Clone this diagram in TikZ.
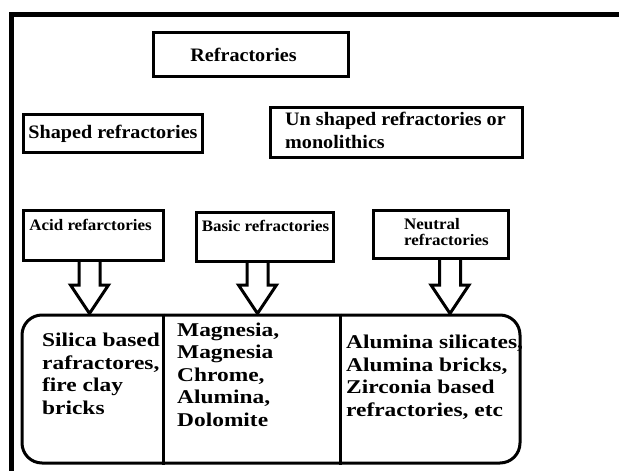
\documentclass[tikz,border=0pt]{standalone}
\usepackage{fontspec}
\setmainfont{Liberation Serif}[FakeStretch=1.2]
\newfontfamily\hdrfont{Liberation Serif}[FakeStretch=1.06]
\usetikzlibrary{calc}
\begin{document}
\begin{tikzpicture}[x=1pt,y=-1pt,line join=miter]
\tikzset{
  box/.style={draw, line width=3pt, inner sep=0pt},
  big/.style={font=\hdrfont\fontsize{19}{23}\selectfont\bfseries, inner sep=0pt},
  small/.style={font=\hdrfont\fontsize{16}{16}\selectfont\bfseries, inner sep=0pt},
  cell/.style={font=\fontsize{19.5}{22.5}\selectfont\bfseries, align=left, inner sep=0pt, anchor=base west},
  blockarr/.style={draw, line width=3pt, line join=miter},
  frame/.style={line width=5pt}
}
\useasboundingbox (0,0) rectangle (619,471);
% outer frame
\draw[frame] (11,471) -- (11,14.5) -- (619,14.5);
% boxes
\node[box, minimum width=195pt, minimum height=44pt] (ref) at (250.5,54) {};
\node[box, minimum width=179pt, minimum height=38pt] (shaped) at (112.5,133) {};
\node[box, minimum width=252pt, minimum height=50pt] (unshaped) at (396,132) {};
\node[box, minimum width=140pt, minimum height=50pt] (acid) at (93,235) {};
\node[box, minimum width=137pt, minimum height=49pt] (basic) at (264.5,236.5) {};
\node[box, minimum width=135pt, minimum height=48pt] (neutral) at (440.5,234) {};
\node[box, rounded corners=20pt, minimum width=498pt, minimum height=148pt] (base) at (271,389) {};
% labels (multi-line nodes: base = last line)
\node[big, anchor=base] (reft) at (243.5,61) {Refractories};
\node[big, anchor=base] (shapedt) at (113,138) {Shaped refractories};
\node[big, anchor=base west, align=left] (unshapedt) at (285,148) {Un shaped refractories or\\monolithics};
\node[small, anchor=base] (acidt) at (90.5,230) {Acid refarctories};
\node[small, anchor=base] (basict) at (265.5,231) {Basic refractories};
\node[small, anchor=base west, align=left] (neutralt) at (404,245) {Neutral\\refractories};
% dividers
\coordinate (d1) at (163,0);
\coordinate (d2) at (340,0);
\draw[line width=3pt] (d1 |- base.north) -- (d1 |- base.south);
\draw[line width=3pt] (d2 |- base.north) -- (d2 |- base.south);
% arrows
\coordinate (hs) at (0,285);
\coordinate (xa) at (89.5,0);
\coordinate (xb) at (257.5,0);
\coordinate (xc) at (450,0);
\foreach \x/\b in {xa/acid, xb/basic, xc/neutral}{
  \draw[blockarr] ($(\x |- \b.south)+(-10.5,0)$) -- ($(\x |- hs)+(-10.5,0)$) -- ($(\x |- hs)+(-19,0)$)
     -- (\x |- base.north) -- ($(\x |- hs)+(19,0)$) -- ($(\x |- hs)+(10.5,0)$) -- ($(\x |- \b.south)+(10.5,0)$);
}
% cell texts
\node[cell] (c1) at (42,414) {Silica based\\rafractores,\\fire clay\\bricks};
\node[cell] (c2) at (177,426) {Magnesia,\\Magnesia\\Chrome,\\Alumina,\\Dolomite};
\node[cell] (c3) at (346,416) {Alumina silicates,\\Alumina bricks,\\Zirconia based\\refractories, etc};
\end{tikzpicture}
\end{document}
